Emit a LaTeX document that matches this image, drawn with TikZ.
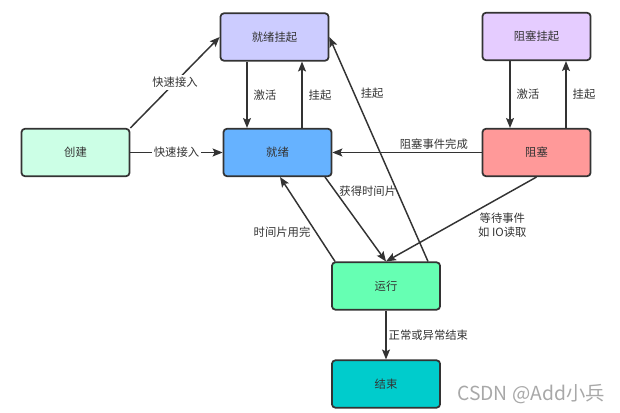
\documentclass[tikz,border=0pt]{standalone}
\usepackage{fontspec}
\setmainfont{Noto Sans CJK SC}
\usetikzlibrary{arrows.meta,calc}
\definecolor{edge}{HTML}{333333}
\definecolor{txt}{HTML}{333333}
\definecolor{cCJ}{HTML}{CCFFE6}
\definecolor{cJXGQ}{HTML}{CCCCFF}
\definecolor{cJX}{HTML}{66B2FF}
\definecolor{cZSGQ}{HTML}{E5CCFF}
\definecolor{cZS}{HTML}{FF9999}
\definecolor{cYX}{HTML}{66FFB3}
\definecolor{cJS}{HTML}{00CCCC}
\definecolor{wm}{HTML}{A8A8A8}
\begin{document}
\begin{tikzpicture}[x=0.75pt,y=-0.75pt,
  state/.style={draw=edge,line width=1.3pt,rounded corners=2.5pt,minimum width=81pt,minimum height=35.5pt,inner sep=0pt,font=\fontsize{8.5}{10}\selectfont,text=txt},
  arr/.style={draw=edge,line width=1.1pt,-{Stealth[length=7.5pt,width=6pt,inset=1.5pt]}},
  lbl/.style={font=\fontsize{8.5}{10.5}\selectfont,text=txt,inner sep=1.5pt}]
\useasboundingbox (0,0) rectangle (620,413);
\node[state,fill=cCJ] (cj) at (75.5,152.5) {创建};
\node[state,fill=cJXGQ] (jxgq) at (274.5,37) {就绪挂起};
\node[state,fill=cJX] (jx) at (277.5,152.5) {就绪};
\node[state,fill=cZSGQ] (zsgq) at (536.5,36.5) {阻塞挂起};
\node[state,fill=cZS] (zs) at (536.5,152.5) {阻塞};
\node[state,fill=cYX] (yx) at (386,286) {运行};
\node[state,fill=cJS] (js) at (386,384) {结束};

\draw[arr] (cj.north east) -- node[lbl,fill=white,midway] {快速接入} (jxgq.west);
\draw[arr] (cj.east) -- node[lbl,fill=white,midway] {快速接入} (jx.west);
\draw[arr] ($(jxgq.south)+(-27.5,0)$) -- node[lbl,right=3pt,midway] {激活} ($(jx.north)+(-30.5,0)$);
\draw[arr] ($(jx.north)+(24.5,0)$) -- node[lbl,right=3pt,midway] {挂起} ($(jxgq.south)+(27.5,0)$);
\draw[arr] ($(yx.north)+(42,0)$) -- node[lbl,right=3pt,pos=0.75] {挂起} (jxgq.east);
\draw[arr] (zs.west) -- node[lbl,above,pos=0.32] {阻塞事件完成} (jx.east);
\draw[arr] ($(zsgq.south)+(-26.5,0)$) -- node[lbl,right=3pt,midway] {激活} ($(zs.north)+(-26.5,0)$);
\draw[arr] ($(zs.north)+(29.5,0)$) -- node[lbl,right=3pt,midway] {挂起} ($(zsgq.south)+(29.5,0)$);
\draw[arr] (zs.south) -- node[lbl,align=center,pos=0.227,anchor=north,yshift=-10.5pt] {等待事件\\如 IO读取} (yx.north);
\draw[arr] ($(jx.south)+(47.5,0)$) -- node[lbl,pos=0.17,anchor=west,xshift=1pt] {获得时间片} (yx.north);
\draw[arr] ($(yx.north)+(-51,0)$) -- node[lbl,pos=0.35,left=2pt] {时间片用完} ($(jx.south)+(2.5,0)$);
\draw[arr] (yx.south) -- node[lbl,midway,right=0pt] {正常或异常结束} (js.north);

\node[font=\fontsize{14.5}{16}\selectfont,text=wm] (wmk) at (531,394) {CSDN @Add小兵};
\end{tikzpicture}
\end{document}
